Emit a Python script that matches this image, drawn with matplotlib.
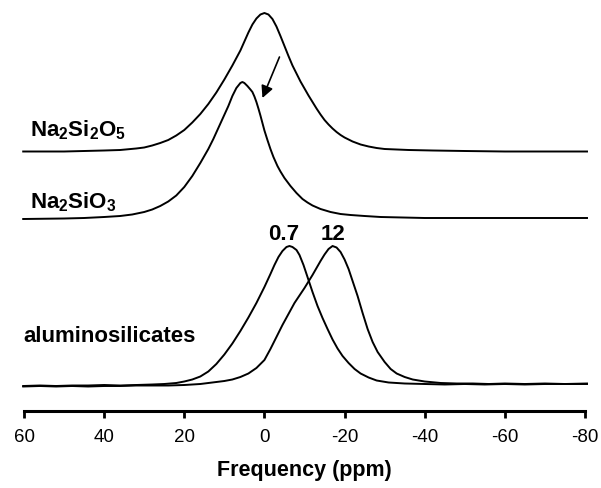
import matplotlib
matplotlib.use("Agg")
import matplotlib.pyplot as plt
from matplotlib.patches import FancyArrowPatch

plt.rcParams['font.family'] = ['Liberation Sans', 'DejaVu Sans']
plt.rcParams['mathtext.fontset'] = 'custom'
plt.rcParams['mathtext.rm'] = 'Liberation Sans'
plt.rcParams['mathtext.bf'] = 'Liberation Sans:bold'

# 23Na MAS NMR spectra: chemical shift (ppm) and intensity (arbitrary units)
na2si2o5_ppm = [60.2, 55, 50, 45, 40, 36, 32, 30, 28, 26,
                24, 22, 20, 18, 16, 14, 12, 10, 8, 6,
                5, 4, 3, 2, 1, 0, -1, -2, -3, -4,
                -5, -6, -7, -8, -9, -10, -11, -12, -13, -14,
                -15, -16, -17, -18, -19, -20, -22, -24, -26, -28,
                -30, -33, -36, -42, -50, -60, -70, -80.5]
na2si2o5_int = [0, 0, 0, 0.5, 1, 1.5, 3, 4, 6, 8.5,
                11.5, 16, 21.5, 29, 37.5, 47.5, 59, 72, 86, 101,
                110, 119, 127, 133, 137, 138.5, 137, 132.5, 125, 115.5,
                105.5, 95.5, 86, 78, 70, 63, 56, 49.5, 43, 37,
                31.5, 27, 23, 19.5, 16.5, 14, 10, 7, 5, 3.5,
                2.5, 2, 1.5, 1, 0.5, 0, 0, 0]

na2sio3_ppm = [60.2, 50, 45, 40, 36, 33, 30, 28, 26, 24,
               22, 20, 18, 16, 14, 12.75, 11.5, 10.25, 9, 8,
               7, 6, 5.5, 5, 4.25, 3.5, 3, 2.5, 2, 1.5,
               1, 0.5, 0, -0.75, -1.5, -2.25, -3.25, -4, -5, -6.5,
               -8, -9.5, -10.75, -12, -14, -16.5, -19, -21.5, -25, -29,
               -40, -60, -80.5]
na2sio3_int = [0, 0.5, 1, 2, 3, 4.5, 7, 9.5, 13, 17.5,
               23.5, 32, 43, 56, 70, 80, 91, 102, 113, 123,
               131, 136, 137, 136, 133, 129.5, 127, 122.5, 117, 110.5,
               103.5, 96, 88.5, 79, 70, 62, 53, 47.5, 41, 33,
               26, 20, 16.5, 13.5, 10, 7, 5, 4, 3, 2,
               1, 1, 1]

alsi_07_ppm = [60.2, 56, 52, 48, 44, 40, 36, 32, 28, 25,
               22, 20, 18, 16, 14, 12, 10, 8, 6, 4,
               2, 0, -1.5, -2.5, -3.5, -4.5, -5.5, -6.25, -7, -8,
               -8.75, -9.75, -11, -12, -13.25, -14.5, -15.75, -17, -18.25, -19.5,
               -21, -22.5, -24, -26, -28, -31, -35, -40, -45, -50,
               -55, -60, -65, -70, -75, -80.5]
alsi_07_int = [-1, -0.5, -1, -0.5, -0.5, 0, -0.5, 0, 0.5, 1,
               2, 3.5, 5.5, 8.5, 13.5, 21, 30.5, 41.5, 54, 67.5,
               82, 98, 111, 120, 128, 134, 138, 139, 138, 135,
               130, 120, 105, 93, 79, 67, 56, 45.5, 36.5, 29,
               22, 16, 11.5, 7.5, 4.5, 2.5, 1.5, 1, 0.5, 1,
               0.5, 1, 0.5, 1, 1, 1]

alsi_12_ppm = [60.2, 56, 52, 48, 44, 40, 36, 32, 28, 24,
               20, 16, 14, 12, 10, 8, 6, 4, 2, 0,
               -1.5, -3, -4.5, -6, -7.5, -9, -10, -11, -12, -13,
               -14, -15, -16, -17, -18, -19, -20, -21, -22, -23.25,
               -24.5, -25.75, -27, -28.25, -30, -31.5, -33, -35, -37, -40,
               -44, -48, -52, -56, -60, -65, -70, -75, -80.5]
alsi_12_int = [-1.5, -1, -1.5, -1, -1.5, -1, -1, -0.5, -0.5, -0.5,
               0, 1, 2, 3, 4, 5.5, 8, 11.5, 17, 25,
               36, 48, 60, 71, 82, 91, 97, 103.5, 110, 117,
               124, 130.5, 136, 139, 137.5, 133, 125.5, 116, 104, 89,
               72, 56, 43, 33, 23, 16, 11.5, 8, 5.5, 3.5,
               2, 1.5, 1.5, 1, 1.5, 1, 1.5, 1, 1.5]

x_ticks = [60, 40, 20, 0, -20, -40, -60, -80]

fig = plt.figure(figsize=(6.01, 4.89), dpi=100)
ax = fig.add_axes([24 / 601, 77 / 489, 561 / 601, 402 / 489])

# vertical stacking of the traces
off_top, off_mid, off_bot = 259.5, 192, 26
lw = 1.4
ax.plot(na2si2o5_ppm, [v + off_top for v in na2si2o5_int], color='black', lw=lw, clip_on=False)
ax.plot(na2sio3_ppm, [v + off_mid for v in na2sio3_int], color='black', lw=lw, clip_on=False)
ax.plot(alsi_07_ppm, [v + off_bot for v in alsi_07_int], color='black', lw=lw, clip_on=False)
ax.plot(alsi_12_ppm, [v + off_bot for v in alsi_12_int], color='black', lw=lw, clip_on=False)

ax.set_xlim(60, -80)
ax.set_ylim(0, 402)

for s in ('left', 'right', 'top'):
    ax.spines[s].set_visible(False)
ax.spines['bottom'].set_linewidth(2.2)
ax.set_yticks([])
ax.set_xticks(x_ticks)
ax.set_xticklabels([str(t) for t in x_ticks], fontsize=13.5)
ax.tick_params(axis='x', direction='out', length=5, width=2, pad=7)
ax.set_xlabel('Frequency (ppm)', fontsize=15.5, fontweight='bold', labelpad=10)

lab_kw = dict(fontsize=16, fontweight='bold', va='center')
ax.text(58.6, 282, r'$\mathbf{Na_2Si_2O_5}$', ha='left', **lab_kw)
ax.text(58.6, 210, r'$\mathbf{Na_2SiO_3}$', ha='left', **lab_kw)
ax.text(60.2, 75, 'aluminosilicates', ha='left', **lab_kw)
ax.text(-4.75, 177, '0.7', ha='center', **lab_kw)
ax.text(-17, 177, '12', ha='center', **lab_kw)

arrow = FancyArrowPatch((-3.75, 354), (0.5, 313), arrowstyle='-|>', mutation_scale=18,
                        lw=1.2, color='black', shrinkA=0, shrinkB=0)
ax.add_patch(arrow)

fig.savefig('out.png', dpi=100)
